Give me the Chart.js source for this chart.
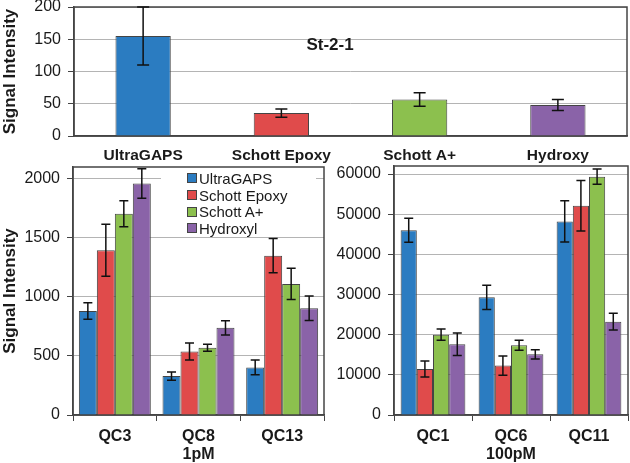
<!DOCTYPE html>
<html>
<head>
<meta charset="utf-8">
<script src="https://cdn.jsdelivr.net/npm/chart.js@4.4.1/dist/chart.umd.min.js"></script>
<style>
  body { margin: 0; background: #fff; }
  #wrap { position: relative; width: 630px; height: 463px; overflow: hidden; font-family: 'Liberation Sans', Arial, sans-serif; color: #1a1a1a; }
  canvas { position: absolute; }
  #topChart { left: 0; top: 0; }
  #pm1Chart { left: 0; top: 160px; }
  #pm100Chart { left: 326px; top: 160px; }
  #legend { position: absolute; left: 161px; top: 168px; width: 155px; height: 66px; padding-top: 2px; box-sizing: border-box; background: #fff; font-size: 15px; }
  #legend .item { display: flex; align-items: center; height: 16.7px; padding-left: 26px; }
  #legend .swatch { width: 8px; height: 8px; border: 1px solid #444; margin-right: 2px; }
</style>
</head>
<body>
<div id="wrap">
  <canvas id="topChart" width="630" height="165"></canvas>
  <canvas id="pm1Chart" width="326" height="303"></canvas>
  <canvas id="pm100Chart" width="304" height="303"></canvas>
  <div id="legend"></div>
</div>
<script>
// top panel: St-2-1
const topCategories = ['UltraGAPS', 'Schott Epoxy', 'Schott A+', 'Hydroxy'];
const topValues = [155, 35.5, 56.5, 48];
const topErrors = [45, 6.5, 10.5, 8.5];
const topTicks = [0, 50, 100, 150, 200];

const materials = ['UltraGAPS', 'Schott Epoxy', 'Schott A+', 'Hydroxyl'];

// 1pM panel
const pm1Labels = ['QC3', ['QC8', '1pM'], 'QC13'];
const pm1UltraGAPS = [880, 330, 403];
const pm1SchottEpoxy = [1395, 538, 1349];
const pm1SchottAPlus = [1705, 569, 1110];
const pm1Hydroxyl = [1960, 738, 904];
const pm1UltraGAPSErr = [70, 35, 63];
const pm1SchottEpoxyErr = [220, 72, 145];
const pm1SchottAPlusErr = [110, 30, 133];
const pm1HydroxylErr = [125, 60, 103];
const pm1Ticks = [0, 500, 1000, 1500, 2000];

// 100pM panel
const pm100Labels = ['QC1', ['QC6', '100pM'], 'QC11'];
const pm100UltraGAPS = [46000, 29300, 48200];
const pm100SchottEpoxy = [11450, 12300, 52100];
const pm100SchottAPlus = [20000, 17350, 59350];
const pm100Hydroxyl = [17600, 15100, 23250];
const pm100UltraGAPSErr = [3000, 3000, 5150];
const pm100SchottEpoxyErr = [2000, 2400, 6300];
const pm100SchottAPlusErr = [1400, 1250, 1900];
const pm100HydroxylErr = [2800, 1150, 2100];
const pm100Ticks = [0, 10000, 20000, 30000, 40000, 50000, 60000];

const colors = ['#2b7cc1', '#e04b4b', '#8cc04e', '#8a63a8'];
const axisColor = '#444';
const gridColor = '#b4b4b4';
const textColor = '#1a1a1a';

Chart.defaults.font.family = "'Liberation Sans', Arial, Helvetica, sans-serif";
Chart.defaults.color = textColor;

const errorBars = {
  id: 'errorBars',
  afterDatasetsDraw(chart) {
    const { ctx } = chart;
    const y = chart.scales.y;
    const cap = chart.options.plugins.errorBars.cap;
    ctx.save();
    ctx.strokeStyle = '#111';
    ctx.lineWidth = 1.5;
    chart.data.datasets.forEach((ds, i) => {
      chart.getDatasetMeta(i).data.forEach((bar, j) => {
        const hi = y.getPixelForValue(ds.data[j] + ds.errors[j]);
        const lo = y.getPixelForValue(ds.data[j] - ds.errors[j]);
        ctx.beginPath();
        ctx.moveTo(bar.x, hi); ctx.lineTo(bar.x, lo);
        ctx.moveTo(bar.x - cap, hi); ctx.lineTo(bar.x + cap, hi);
        ctx.moveTo(bar.x - cap, lo); ctx.lineTo(bar.x + cap, lo);
        ctx.stroke();
      });
    });
    ctx.restore();
  }
};

const plotFrame = {
  id: 'plotFrame',
  beforeDatasetsDraw(chart) {
    const { ctx, chartArea: a } = chart;
    ctx.save();
    ctx.strokeStyle = axisColor;
    ctx.lineWidth = 1.5;
    ctx.strokeRect(a.left, a.top, a.right - a.left, a.bottom - a.top);
    ctx.restore();
  }
};

const panelTitle = {
  id: 'panelTitle',
  afterDraw(chart) {
    const { ctx } = chart;
    ctx.save();
    ctx.font = "bold 17px 'Liberation Sans', Arial, sans-serif";
    ctx.fillStyle = textColor;
    ctx.textAlign = 'center';
    ctx.textBaseline = 'middle';
    ctx.fillText('St-2-1', 330, 45);
    ctx.restore();
  }
};

function yAxis(max, ticks, width, withTitle) {
  return {
    min: 0,
    max: max,
    afterBuildTicks: s => { s.ticks = ticks.map(v => ({ value: v })); },
    ticks: { font: { size: 16 }, padding: 7, color: textColor, callback: v => String(v) },
    grid: { color: gridColor, tickColor: axisColor, tickLength: 6, lineWidth: 1 },
    border: { color: axisColor, width: 1.5 },
    title: { display: withTitle, text: 'Signal Intensity', font: { size: 17, weight: 'bold' }, padding: 0, color: textColor },
    afterFit: s => { s.width = width; s.paddingTop = 0; s.paddingBottom = 0; }
  };
}

function xAxis(height, fontSize, withTicks, padding) {
  return {
    grid: withTicks
      ? { offset: true, drawOnChartArea: false, tickLength: 6, tickColor: axisColor, color: axisColor }
      : { display: false, drawTicks: false },
    border: { color: axisColor, width: 1.5 },
    ticks: { font: { size: fontSize, weight: 'bold', lineHeight: 1.1 }, padding: padding, color: textColor },
    afterFit: s => { s.height = height; s.paddingLeft = 0; s.paddingRight = 0; }
  };
}

new Chart(document.getElementById('topChart'), {
  type: 'bar',
  data: {
    labels: topCategories,
    datasets: [{
      data: topValues,
      errors: topErrors,
      backgroundColor: colors,
      borderColor: axisColor,
      borderWidth: 1,
      categoryPercentage: 1,
      barPercentage: 0.4
    }]
  },
  options: {
    responsive: false,
    animation: false,
    layout: { autoPadding: false, padding: { top: 7, right: 3, bottom: 0, left: 0 } },
    plugins: { legend: { display: false }, tooltip: { enabled: false }, errorBars: { cap: 6 } },
    scales: {
      x: xAxis(29, 15.5, false, 11),
      y: yAxis(200, topTicks, 74, true)
    }
  },
  plugins: [plotFrame, errorBars, panelTitle]
});

function groupedChart(id, labels, series, errors, max, ticks, yWidth, withTitle, catPct) {
  new Chart(document.getElementById(id), {
    type: 'bar',
    data: {
      labels: labels,
      datasets: series.map((d, i) => ({
        label: materials[i],
        data: d,
        errors: errors[i],
        backgroundColor: colors[i],
        borderColor: axisColor,
        borderWidth: 1,
        categoryPercentage: catPct,
        barPercentage: 1
      }))
    },
    options: {
      responsive: false,
      animation: false,
      layout: { autoPadding: false, padding: { top: withTitle ? 7 : 6, right: 2, bottom: 0, left: 0 } },
      plugins: { legend: { display: false }, tooltip: { enabled: false }, errorBars: { cap: 4.5 } },
      scales: {
        x: xAxis(48, 16, true, 7),
        y: yAxis(max, ticks, yWidth, withTitle)
      }
    },
    plugins: [plotFrame, errorBars]
  });
}

groupedChart('pm1Chart', pm1Labels,
  [pm1UltraGAPS, pm1SchottEpoxy, pm1SchottAPlus, pm1Hydroxyl],
  [pm1UltraGAPSErr, pm1SchottEpoxyErr, pm1SchottAPlusErr, pm1HydroxylErr],
  2100, pm1Ticks, 73, true, 0.86);

groupedChart('pm100Chart', pm100Labels,
  [pm100UltraGAPS, pm100SchottEpoxy, pm100SchottAPlus, pm100Hydroxyl],
  [pm100UltraGAPSErr, pm100SchottEpoxyErr, pm100SchottAPlusErr, pm100HydroxylErr],
  62000, pm100Ticks, 68, false, 0.83);

// legend for the lower panels
const legendEl = document.getElementById('legend');
materials.forEach((m, i) => {
  const item = document.createElement('div');
  item.className = 'item';
  const sw = document.createElement('span');
  sw.className = 'swatch';
  sw.style.background = colors[i];
  item.appendChild(sw);
  item.appendChild(document.createTextNode(m));
  legendEl.appendChild(item);
});
</script>
</body>
</html>
